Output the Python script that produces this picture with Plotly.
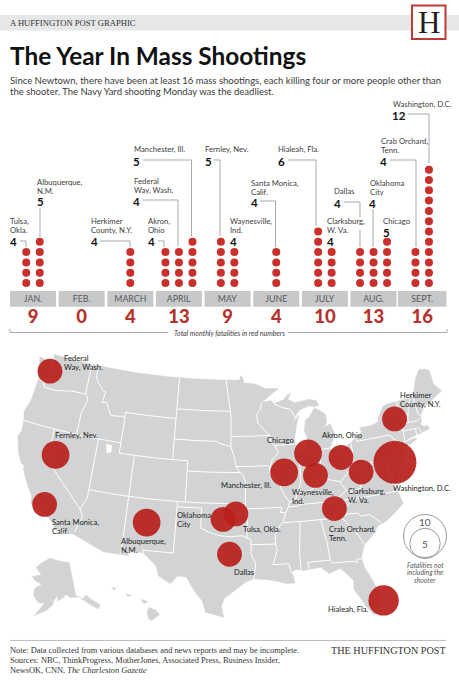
import plotly.graph_objects as go

# chart data
months = ["JAN.", "FEB.", "MARCH", "APRIL", "MAY", "JUNE", "JULY", "AUG.", "SEPT."]
month_totals = [9, 0, 4, 13, 9, 4, 10, 13, 16]

cities = ["Tulsa, Okla.", "Albuquerque, N.M.", "Herkimer County, N.Y.", "Akron, Ohio",
          "Federal Way, Wash.", "Manchester, Ill.", "Fernley, Nev.", "Waynesville, Ind.",
          "Santa Monica, Calif.", "Hialeah, Fla.", "Clarksburg, W. Va.", "Dallas",
          "Oklahoma City", "Chicago", "Crab Orchard, Tenn.", "Washington, D.C."]
city_month = [0, 0, 2, 3, 3, 3, 4, 4, 5, 6, 6, 7, 7, 7, 8, 8]
fatalities = [4, 5, 4, 4, 4, 5, 5, 4, 4, 6, 4, 4, 4, 5, 4, 12]
# where the picture puts the bubbles, which is not always the exact town
city_lon = [-95.8, -106.5, -74.2, -82.1, -122.7, -89.6, -119.05, -85.65,
            -118.9, -79.8, -79.85, -96.55, -97.35, -86.3, -83.8, -75.4]
city_lat = [36.0, 34.7, 43.4, 40.7, 47.32, 39.85, 39.6, 39.3,
            34.7, 26.35, 39.0, 32.1, 35.47, 41.5, 35.9, 39.3]

legend_values = [10, 5]

# base map, lon/lat
us_outline = [(-124.7, 48.4), (-123.2, 48.2), (-122.6, 47.3), (-122.3, 47.9), (-122.8, 49.0), (-118, 49), (-114, 49),
    (-110, 49), (-106, 49), (-102, 49), (-98, 49), (-95.15, 49), (-95.15, 49.38), (-94.8, 49.3), (-94.6, 48.7),
    (-93, 48.6), (-91.5, 48.1), (-89.6, 48.0), (-90.5, 47.6), (-92.1, 46.75), (-90.8, 46.9), (-90.4, 46.55),
    (-89, 46.9), (-88.4, 47.35), (-87.9, 47.47), (-88.4, 46.9), (-87.4, 46.5), (-85.5, 46.7), (-84.4, 46.5),
    (-84.1, 46.0), (-84.7, 45.95), (-85.5, 46.05), (-86.5, 45.85), (-87.0, 45.7), (-87.6, 45.1), (-88.0, 44.55),
    (-87.0, 45.3), (-87.5, 44.3), (-87.9, 43.0), (-87.8, 42.3), (-87.5, 41.65), (-86.8, 41.75), (-86.3, 42.4),
    (-86.2, 43.0), (-86.5, 43.7), (-86.2, 44.7), (-85.6, 45.0), (-85.0, 45.6), (-84.75, 45.78), (-84.0, 45.45),
    (-83.4, 45.1), (-83.3, 44.3), (-83.9, 43.7), (-83.4, 43.95), (-82.9, 44.05), (-82.45, 43.0), (-82.9, 42.4),
    (-83.15, 42.05), (-83.45, 41.7), (-82.7, 41.45), (-81.7, 41.5), (-80.5, 42.0), (-79.0, 42.7), (-78.9, 42.9),
    (-79.05, 43.25), (-77.5, 43.25), (-76.4, 43.5), (-76.2, 44.0), (-75.4, 44.8), (-74.7, 45.0), (-71.5, 45.0),
    (-71.4, 45.25), (-70.8, 45.4), (-70.3, 46.2), (-70.0, 46.7), (-69.2, 47.45), (-68.3, 47.35), (-67.8, 47.05),
    (-67.8, 45.7), (-67.0, 44.85), (-68.5, 44.3), (-70.0, 43.8), (-70.7, 43.05), (-70.7, 42.65), (-71.0, 42.3),
    (-70.6, 41.95), (-70.2, 42.05), (-70.0, 41.65), (-70.7, 41.55), (-71.4, 41.45), (-72.9, 41.25), (-73.7, 40.95),
    (-74.0, 40.45), (-74.1, 39.7), (-74.9, 38.95), (-75.5, 39.5), (-75.1, 38.75), (-75.2, 38.0), (-75.95, 37.15),
    (-75.7, 37.9), (-76.2, 38.6), (-76.0, 39.5), (-76.5, 39.2), (-76.45, 38.4), (-76.3, 37.9), (-76.3, 37.0),
    (-75.98, 36.85), (-75.75, 36.2), (-75.5, 35.25), (-76.5, 34.65), (-77.9, 33.9), (-78.9, 33.65), (-79.9, 32.7),
    (-80.9, 32.05), (-81.4, 31.0), (-81.45, 30.7), (-81.3, 29.9), (-80.6, 28.4), (-80.05, 26.9), (-80.15, 25.75),
    (-80.45, 25.2), (-81.1, 25.15), (-81.8, 26.1), (-82.2, 26.9), (-82.8, 27.85), (-82.7, 28.7), (-83.4, 29.5),
    (-84.0, 30.1), (-85.3, 29.7), (-86.2, 30.4), (-87.5, 30.3), (-88.1, 30.25), (-88.9, 30.4), (-89.6, 30.2),
    (-89.4, 29.9), (-89.2, 29.1), (-90.2, 29.1), (-91.3, 29.4), (-92.2, 29.55), (-93.8, 29.7), (-94.7, 29.4),
    (-95.9, 28.6), (-97.1, 27.8), (-97.4, 27.0), (-97.15, 25.95), (-99.1, 26.4), (-99.5, 27.5), (-100.4, 28.4),
    (-101.4, 29.75), (-102.4, 29.8), (-103.1, 29.0), (-104.5, 29.65), (-104.9, 30.6), (-106.5, 31.75), (-108.2, 31.78),
    (-108.2, 31.33), (-111.07, 31.33), (-114.8, 32.5), (-117.12, 32.53), (-117.3, 33.0), (-118.4, 33.75), (-118.5, 34.03),
    (-119.2, 34.15), (-120.5, 34.45), (-120.65, 35.15), (-121.9, 36.6), (-122.5, 37.5), (-122.5, 37.8), (-123.0, 38.0),
    (-123.75, 39.0), (-124.35, 40.4), (-124.1, 41.0), (-124.2, 42.0), (-124.55, 42.85), (-124.1, 44.0), (-123.95, 46.2),
    (-124.1, 46.9), (-124.7, 48.4)]
long_island = [(-74.0, 40.6), (-73.7, 40.9), (-72.3, 41.15), (-71.9, 41.05), (-72.8, 40.7), (-74.0, 40.6)]
alaska = [(-156.5, 71.3), (-148, 70.4), (-141, 69.6), (-141, 60.3), (-137.5, 58.9), (-135.5, 59.8), (-133.5, 58.3),
    (-130.0, 55.9), (-131.5, 55), (-134, 56.5), (-136.5, 58), (-139.5, 59.7), (-144, 60), (-146.5, 61), (-148.5, 60),
    (-151.5, 59.3), (-151, 61), (-153.5, 59.5), (-154, 58.3), (-157.5, 56.7), (-163, 55), (-158.5, 58.7), (-162, 58.7),
    (-165, 60.5), (-165, 62.5), (-161, 63.9), (-165, 64.5), (-168, 65.6), (-162, 66.5), (-166.5, 68.3), (-163, 69.8),
    (-156.5, 71.3)]
hawaii = [(-155.9, 20.25), (-155.1, 19.9), (-154.8, 19.5), (-155.6, 18.95), (-155.9, 19.1), (-156.05, 19.7), (-155.9, 20.25)]
maui = [(-156.7, 21.0), (-156.0, 20.8), (-156.4, 20.6), (-156.7, 21.0)]
oahu = [(-158.2, 21.6), (-157.7, 21.4), (-158.1, 21.3), (-158.2, 21.6)]
kauai = [(-159.7, 22.2), (-159.3, 22.1), (-159.5, 21.9), (-159.7, 22.2)]
salt_lake = [(-112.9, 41.65), (-112.2, 41.6), (-112.1, 41.0), (-112.6, 40.8), (-112.9, 41.65)]

state_lines = [
    [(-124.0, 46.25), (-123.2, 46.15), (-122.8, 45.65), (-121.2, 45.65), (-119.3, 45.93), (-118.98, 46.0), (-116.92, 46.0)],
    [(-117.03, 49), (-117.04, 46.42), (-116.92, 46.0), (-116.5, 45.5), (-117.03, 44.2), (-117.03, 42)],
    [(-124.2, 42), (-122, 42), (-120, 42), (-117.03, 42), (-114.04, 42), (-111.05, 42)],
    [(-120, 42), (-120, 39), (-114.63, 35.0), (-114.15, 34.3), (-114.5, 33.5), (-114.72, 32.72)],
    [(-114.63, 35), (-114.04, 36.2), (-114.04, 37), (-114.04, 42)],
    [(-116.05, 49), (-116.05, 48), (-115.7, 47.45), (-114.7, 46.7), (-114.3, 46.65), (-114.5, 45.55), (-113.9, 45.65),
     (-113.45, 45.05), (-113.0, 44.45), (-111.5, 44.55), (-111.05, 44.48)],
    [(-111.05, 45), (-111.05, 41), (-109.05, 41), (-109.05, 37), (-109.05, 31.33)],
    [(-111.05, 45), (-108, 45), (-104.05, 45)],
    [(-104.05, 49), (-104.05, 45), (-104.05, 41)],
    [(-109.05, 41), (-106, 41), (-104.05, 41), (-102.05, 41), (-102.05, 40), (-102.05, 37)],
    [(-102.05, 40), (-99, 40), (-95.3, 40)],
    [(-104.05, 45.94), (-100, 45.94), (-96.56, 45.94)],
    [(-104.05, 43), (-101, 43), (-98.5, 43), (-97.9, 42.8), (-96.45, 42.5), (-96.1, 41.7), (-95.9, 41.2), (-95.85, 40.7),
     (-95.3, 40), (-94.9, 39.8), (-94.6, 39.15), (-94.62, 37), (-94.62, 36.5), (-94.43, 35.4), (-94.48, 33.64)],
    [(-97.2, 49), (-96.56, 46), (-96.45, 45.3), (-96.45, 43.5), (-96.45, 42.5)],
    [(-96.45, 43.5), (-94, 43.5), (-91.22, 43.5)],
    [(-92.1, 46.75), (-92.3, 46.1), (-92.9, 45.6), (-92.75, 44.75), (-91.22, 43.5), (-91.15, 42.9), (-90.65, 42.5),
     (-90.15, 41.8), (-91.0, 41.2), (-91.4, 40.4), (-91.5, 40.0), (-90.7, 39.0), (-90.15, 38.8), (-90.2, 38.4),
     (-89.5, 37.3), (-89.15, 37.0), (-89.4, 36.5), (-89.7, 36.0), (-90.1, 35.1), (-90.6, 34.7), (-91.1, 33.9),
     (-91.2, 33.0), (-91.0, 32.4), (-91.6, 31.0), (-89.75, 31), (-89.6, 30.2)],
    [(-95.77, 40.58), (-93.5, 40.58), (-91.73, 40.6), (-91.4, 40.4)],
    [(-90.65, 42.5), (-87.8, 42.5)],
    [(-90.4, 46.55), (-89.1, 46.1), (-88.1, 45.9), (-87.6, 45.1)],
    [(-87.53, 41.7), (-87.53, 39.3), (-87.6, 38.7), (-88.05, 37.8)],
    [(-89.15, 37.0), (-88.5, 37.1), (-88.05, 37.8), (-87.1, 37.8), (-86.3, 38.0), (-85.7, 38.3), (-85.4, 38.75),
     (-84.8, 39.1), (-84.2, 38.8), (-83.7, 38.65), (-82.6, 38.4), (-81.75, 39.0), (-80.85, 39.7), (-80.65, 40.5),
     (-80.52, 40.64), (-80.52, 39.72)],
    [(-84.82, 39.1), (-84.8, 41.7)],
    [(-86.82, 41.76), (-84.8, 41.73), (-83.45, 41.73)],
    [(-80.52, 40.64), (-80.52, 42.0)],
    [(-79.76, 42.27), (-79.76, 42.0), (-77, 42), (-75.35, 42.0), (-74.7, 41.35), (-75.1, 41.0), (-75.2, 40.65),
     (-74.75, 40.2), (-75.4, 39.8)],
    [(-74.7, 41.35), (-73.9, 41.0)],
    [(-80.52, 39.72), (-78, 39.72), (-75.79, 39.72), (-75.7, 38.46), (-75.05, 38.45)],
    [(-75.79, 39.72), (-75.4, 39.8)],
    [(-79.48, 39.72), (-79.48, 39.2), (-78.4, 39.6), (-77.75, 39.3), (-77.05, 38.85), (-77.3, 38.4), (-76.3, 37.95)],
    [(-77.75, 39.3), (-78.9, 38.75), (-79.6, 38.5), (-80.3, 37.5), (-81.7, 37.2), (-82.0, 37.5), (-82.6, 38.2), (-82.6, 38.4)],
    [(-82.0, 37.5), (-83.68, 36.6)],
    [(-75.85, 36.55), (-78.5, 36.55), (-81.68, 36.59), (-83.68, 36.6), (-86, 36.63), (-88.07, 36.65), (-88.07, 36.5), (-89.4, 36.5)],
    [(-90.1, 35.0), (-87, 35), (-84.32, 35.0), (-83.1, 35), (-82.6, 34.4), (-81.4, 33.0), (-80.9, 32.05)],
    [(-81.68, 36.59), (-82.0, 36.1), (-83.1, 35.75), (-84.32, 35.0)],
    [(-83.1, 35.0), (-82.3, 35.2), (-81.05, 35.15), (-80.8, 34.82), (-79.67, 34.8), (-78.55, 33.87)],
    [(-85.6, 35), (-85.18, 32.87), (-85.0, 31.0), (-84.86, 30.7), (-82.2, 30.57), (-82.05, 30.37), (-82.0, 30.75), (-81.45, 30.7)],
    [(-85.0, 31), (-87.6, 31), (-87.6, 30.9), (-87.5, 30.3)],
    [(-88.2, 35), (-88.1, 34.9), (-88.45, 31.9), (-88.4, 30.3)],
    [(-89.7, 36), (-90.37, 36), (-90.15, 36.5), (-92.5, 36.5), (-94.62, 36.5)],
    [(-114.04, 37), (-111, 37), (-109.05, 37), (-106, 37), (-103, 37), (-100, 37), (-97, 37), (-94.62, 37)],
    [(-103, 37), (-103, 36.5), (-100, 36.5), (-100, 34.56), (-99, 34.2), (-97.9, 33.9), (-96.5, 33.8), (-95, 33.9), (-94.48, 33.64),
     (-94.04, 33.55), (-94.04, 33.02), (-94.04, 32), (-93.55, 31.2), (-93.7, 30.1), (-93.85, 29.7)],
    [(-103, 36.5), (-103.05, 32), (-106.6, 32), (-106.5, 31.75)],
    [(-94.04, 33.02), (-92.5, 33.0), (-91.17, 33.0)],
    [(-73.35, 45), (-73.4, 44), (-73.25, 43.6), (-73.27, 42.75), (-73.5, 42.05), (-73.5, 41.3), (-73.65, 41.0)],
    [(-71.5, 45), (-72.05, 44.1), (-72.45, 43.1), (-72.46, 42.73)],
    [(-71.08, 45.3), (-70.97, 43.4), (-70.7, 43.05)],
    [(-73.27, 42.75), (-71.3, 42.7), (-70.8, 42.87)],
    [(-73.5, 42.05), (-71.8, 42.02), (-71.38, 42.02), (-71.12, 41.5)],
    [(-71.8, 42.02), (-71.85, 41.32)],
]

W, H = 459, 680
SERIF = "Liberation Serif"
SANS = "Lato"
RED = "#c9302c"
GREY_TEXT = "#414042"
LEADER = "#a7a9ac"

# month axis: month i sits at 33 + 48.65*i px, dot row k at 283 - 10.3*(k-1) px
MONTH_PX = 48.65
ROW_PX = 10.3
COL_STEP = 13.5 / MONTH_PX


def row_from_px(py):
    return 1 + (283 - py) / ROW_PX


annotations = []
shapes = []


def label(px, py, text, size=8.2, family=SANS, color=GREY_TEXT, anchor="left", **font_kw):
    annotations.append(dict(x=px / W, y=1 - py / H, xref="paper", yref="paper", text=text, showarrow=False,
                            xanchor=anchor, yanchor="middle", align=anchor, borderpad=0, borderwidth=0,
                            font=dict(size=size, family=family, color=color, **font_kw)))


def stacked(px, py, lines, step=8.8, **kw):
    for i, line in enumerate(lines):
        label(px, py + i * step, line, **kw)


def path(points, color=LEADER, width=1):
    d = "M" + " L".join(f"{x / W:.5f},{1 - y / H:.5f}" for x, y in points)
    shapes.append(dict(type="path", path=d, xref="paper", yref="paper", line=dict(color=color, width=width)))


fig = go.Figure()

# header
shapes.append(dict(type="rect", xref="paper", yref="paper", x0=0, x1=1, y0=1 - 30.5 / H, y1=1 - 15 / H,
                   fillcolor="#e6e7e8", line_width=0, layer="below"))
label(10, 23.2, "A HUFFINGTON POST GRAPHIC", size=8.6, family=SERIF, color="#333333")
shapes.append(dict(type="rect", xref="paper", yref="paper", x0=412 / W, x1=445.5 / W, y0=1 - 39 / H, y1=1 - 5.5 / H,
                   fillcolor="white", line=dict(color="#bf3a33", width=2)))
label(428.7, 22.5, "H", size=31, family=SERIF, color="#231f20", anchor="center")
label(10, 55, "<b>The Year In Mass Shootings</b>", size=24.4, color="#111111")
label(10, 80.5, "Since Newtown, there have been at least 16 mass shootings, each killing four or more people other than",
      size=9.5, color="#3a3a3a")
label(10, 92, "the shooter. The Navy Yard shooting Monday was the deadliest.", size=9.5, color="#3a3a3a")

# month bands and totals
band_base = row_from_px(306.7)
band_height = row_from_px(291) - band_base
fig.add_trace(go.Bar(x=list(range(len(months))), y=[band_height] * len(months), base=band_base,
                     width=[46 / MONTH_PX] * 8 + [48.5 / MONTH_PX], text=months, textposition="inside",
                     insidetextanchor="middle", textangle=0, constraintext="none",
                     insidetextfont=dict(size=8.8, family=SANS, color="#58595b"),
                     marker=dict(color="#c7c8ca", line_width=0), hoverinfo="skip", showlegend=False))
fig.add_trace(go.Scatter(x=list(range(len(months))), y=[row_from_px(318.5)] * len(months), mode="text",
                         text=[str(t) for t in month_totals],
                         textfont=dict(size=18.5, family=SANS, color="#b8322c", weight=900),
                         hoverinfo="skip", showlegend=False))

# dot columns, centred on their month
dot_x, dot_y = [], []
for i, (m, v) in enumerate(zip(city_month, fatalities)):
    in_month = [k for k, mm in enumerate(city_month) if mm == m]
    col = in_month.index(i)
    for row in range(1, v + 1):
        dot_x.append(m + (col - (len(in_month) - 1) / 2) * COL_STEP)
        dot_y.append(row)
fig.add_trace(go.Scatter(x=dot_x, y=dot_y, mode="markers", marker=dict(size=8, color=RED, line_width=0),
                         hoverinfo="skip", showlegend=False))

# labels above the dots: text x, first line y, number x, number y, leader
callouts = [
    (10, 221, 13, 241, ["Tulsa,", "Okla."], [(20, 241), (26, 241), (26, 247)]),
    (37, 182, 40, 201, ["Albuquerque,", "N.M."], [(40, 208), (40, 237)]),
    (91, 221, 94, 241, ["Herkimer", "County, N.Y."], [(100, 241), (130, 241), (130, 247)]),
    (148, 221, 151, 241, ["Akron,", "Ohio"], [(158, 241), (164, 241), (164, 247)]),
    (134, 181, 136.5, 201, ["Federal", "Way, Wash."], [(143, 200), (178, 200), (178, 246)]),
    (134, 149, 136.5, 161, ["Manchester, Ill."], [(143, 160), (191.5, 160), (191.5, 236)]),
    (205, 149, 208, 161, ["Fernley, Nev."], [(214, 160), (220, 160), (220, 236)]),
    (230, 221, 233, 241, ["Waynesville,", "Ind."], None),
    (251, 183, 254, 202, ["Santa Monica,", "Calif."], [(260, 201), (275.5, 201), (275.5, 247)]),
    (278, 149, 281, 161, ["Hialeah, Fla."], [(288, 160), (316, 160), (316, 226)]),
    (327, 221, 330, 241, ["Clarksburg,", "W. Va."], None),
    (334, 191, 337, 203, ["Dallas"], [(344, 202), (360, 202), (360, 217)]),
    (370, 183, 372.5, 203, ["Oklahoma", "City"], [(373, 209), (373, 247)]),
    (383, 221, 386, 232, ["Chicago"], None),
    (381, 141, 383.5, 161, ["Crab Orchard,", "Tenn."], [(390, 160), (416, 160), (416, 247)]),
    (393, 104, 399, 115, ["Washington, D.C."], [(408, 114), (429, 114), (429, 163)]),
]
for (tx, ty, nx, ny, lines, leader), v in zip(callouts, fatalities):
    stacked(tx, ty, lines, step=8.7, size=7.7)
    label(nx, ny, f"<b>{v}</b>", size=11.5, color="#111111", anchor="center")
    if leader:
        path(leader)
path([(360, 230), (360, 247)])

# bracket under the totals
path([(10, 329), (10, 332.5), (168, 332.5)])
path([(288, 332.5), (447, 332.5), (447, 329)])
label(229, 332.5, "<i>Total monthly fatalities in red numbers</i>", size=7, anchor="center")


def rings(*polys):
    lons, lats = [], []
    for poly in polys:
        lons += [p[0] for p in poly] + [None]
        lats += [p[1] for p in poly] + [None]
    return lons[:-1], lats[:-1]


# base map
for poly in [us_outline, long_island, alaska, hawaii, maui, oahu, kauai]:
    lons, lats = rings(poly)
    fig.add_trace(go.Scattergeo(lon=lons, lat=lats, mode="lines", fill="toself", fillcolor="#d1d3d4",
                                line=dict(color="#d1d3d4", width=0.5), hoverinfo="skip", showlegend=False))
lons, lats = rings(*state_lines)
fig.add_trace(go.Scattergeo(lon=lons, lat=lats, mode="lines", line=dict(color="white", width=1),
                            hoverinfo="skip", showlegend=False))
lons, lats = rings(salt_lake)
fig.add_trace(go.Scattergeo(lon=lons, lat=lats, mode="lines", fill="toself", fillcolor="white",
                            line=dict(color="white", width=0.5), hoverinfo="skip", showlegend=False))

# bubbles: area follows fatalities
fig.add_trace(go.Scattergeo(lon=city_lon, lat=city_lat, mode="markers", text=cities,
                            marker=dict(size=fatalities, sizemode="area", sizeref=1 / (2 * 6.2 ** 2), opacity=0.92,
                                        color="rgb(184,30,26)", line=dict(width=0)),
                            hoverinfo="text", showlegend=False))

map_labels = [
    (64, 358, ["Federal", "Way, Wash."]), (55, 435, ["Fernley, Nev."]), (52, 522, ["Santa Monica,", "Calif."]),
    (121, 541, ["Albuquerque,", "N.M."]), (177, 515, ["Oklahoma", "City"]), (221, 485, ["Manchester, Ill."]),
    (267, 440, ["Chicago"]), (322, 435, ["Akron, Ohio"]), (400, 395, ["Herkimer", "County, N.Y."]),
    (292, 492, ["Waynesville,", "Ind."]), (348, 491, ["Clarksburg,", "W. Va."]), (393, 488, ["Washington, D.C."]),
    (243, 529, ["Tulsa, Okla."]), (329, 529, ["Crab Orchard,", "Tenn."]), (234, 572, ["Dallas"]),
    (328, 609, ["Hialeah, Fla."]),
]
for tx, ty, lines in map_labels:
    stacked(tx, ty, lines, step=8.7, size=7.6, color="#231f20")

# size key, on a plain pixel axis
fig.add_trace(go.Scatter(x=[425, 425], y=[536, 543.5], mode="markers", xaxis="x2", yaxis="y2",
                         marker=dict(size=legend_values, sizemode="area", sizeref=1 / (2 * 6.8 ** 2), opacity=1,
                                     color="rgba(255,255,255,0)", line=dict(color="#808285", width=0.8)),
                         hoverinfo="skip", showlegend=False))
label(425, 522, str(legend_values[0]), size=10, anchor="center", color="#58595b")
label(425, 544, str(legend_values[1]), size=10, anchor="center", color="#58595b")
for i, line in enumerate(["Fatalities not", "including the", "shooter"]):
    label(425, 564.5 + i * 7.7, f"<i>{line}</i>", size=6.8, anchor="center", color="#58595b")

# footer
path([(10, 640.5), (446, 640.5)], color="#bcbec0", width=1)
label(10, 650, "Note: Data collected from various databases and news reports and may be incomplete.", size=8.4,
      family=SERIF, color="#333333")
label(10, 660, "Sources: NBC, ThinkProgress, MotherJones, Associated Press, Business Insider,", size=8.4,
      family=SERIF, color="#333333")
label(10, 670, "NewsOK, CNN, <i>The Charleston Gazette</i>", size=8.4, family=SERIF, color="#333333")
label(445.5, 650, "THE HUFFINGTON POST", size=10.2, family=SERIF, color="#333333", anchor="right")

fig.update_layout(
    width=W, height=H, margin=dict(l=0, r=0, t=0, b=0), paper_bgcolor="white", plot_bgcolor="rgba(0,0,0,0)",
    barmode="overlay", showlegend=False, annotations=annotations, shapes=shapes,
    xaxis=dict(range=[-33 / MONTH_PX, (W - 33) / MONTH_PX], domain=[0, 1], visible=False, fixedrange=True),
    yaxis=dict(range=[row_from_px(H), row_from_px(0)], domain=[0, 1], visible=False, fixedrange=True),
    xaxis2=dict(range=[0, W], overlaying="x", visible=False, fixedrange=True),
    yaxis2=dict(range=[H, 0], overlaying="y", visible=False, fixedrange=True),
    geo=dict(projection=dict(type="albers usa", scale=1.165), scope="usa",
             domain=dict(x=[0, 1], y=[1 - 661 / H, 1 - 311 / H]),
             showland=False, showlakes=False, showcoastlines=False, showsubunits=False, showcountries=False,
             showframe=False, showocean=False, showrivers=False, bgcolor="rgba(0,0,0,0)"),
)

# the page's default body margin would push the figure off the window;
# the map frame is tighter than the enlarged map, so drop its clip as well
page_fix = """
document.body.style.margin = '0';
document.querySelectorAll('g.geo').forEach(function (g) { g.removeAttribute('clip-path'); g.style.clipPath = 'none'; });
"""
fig.write_html("out.html", post_script=page_fix, config=dict(displayModeBar=False))
